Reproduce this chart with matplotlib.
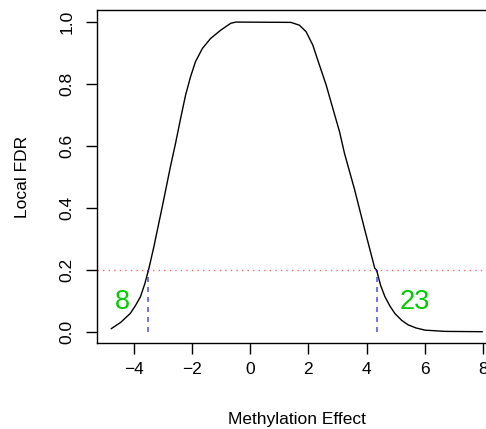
import matplotlib
matplotlib.use("Agg")
import matplotlib.pyplot as plt

plt.rcParams["font.family"] = ["Liberation Sans", "DejaVu Sans"]

# local FDR curve
effect = [-4.77, -4.45, -4.12, -3.95, -3.77, -3.62, -3.49, -3.31, -3.02, -2.74,
          -2.565, -2.39, -2.22, -2.05, -1.88, -1.64, -1.36, -1.01, -0.67, -0.49,
          1.40, 1.69, 1.92, 2.15, 2.38, 2.61, 2.84, 3.07, 3.24, 3.59,
          3.94, 4.28, 4.34, 4.48, 4.63, 4.80, 4.97, 5.20, 5.43, 5.70,
          6.01, 6.70, 7.97]
local_fdr = [0.010, 0.030, 0.059, 0.083, 0.113, 0.155, 0.200, 0.274, 0.404, 0.533,
             0.608, 0.689, 0.764, 0.823, 0.872, 0.915, 0.947, 0.974, 0.996, 1.000,
             0.999, 0.990, 0.969, 0.926, 0.861, 0.797, 0.721, 0.646, 0.576, 0.458,
             0.328, 0.205, 0.200, 0.150, 0.113, 0.083, 0.059, 0.037, 0.022, 0.012,
             0.005, 0.001, 0.000]

fdr_cut = 0.2
cut_left, cut_right = -3.50, 4.34
n_left, n_right = "8", "23"
label_pos_left, label_pos_right = -4.40, 5.64
label_y = 0.097

x_ticks = [-4, -2, 0, 2, 4, 6, 8]
y_ticks = [0.0, 0.2, 0.4, 0.6, 0.8, 1.0]

fig = plt.figure(figsize=(4.86, 4.29), dpi=100)
# plot region runs past the right edge, as in the reference
ax = fig.add_axes([96.5 / 486, 86 / 429, 400.5 / 486, 333 / 429])

ax.plot(effect, local_fdr, color="black", lw=1.0)
ax.axhline(fdr_cut, color="red", lw=1.0, alpha=0.6, ls=(0, (1, 3)))
ax.plot([cut_left, cut_left], [0, fdr_cut], color="blue", lw=1.2, alpha=0.65,
        ls=(0, (3, 3)))
ax.plot([cut_right, cut_right], [0, fdr_cut], color="blue", lw=1.2, alpha=0.65,
        ls=(0, (3, 3)))
ax.text(label_pos_left, label_y, n_left, color="#00CD00", fontsize=19.5,
        ha="center", va="center")
ax.text(label_pos_right, label_y, n_right, color="#00CD00", fontsize=19.5,
        ha="center", va="center")

ax.set_xlim(-5.28, 8.48)
ax.set_ylim(-0.0365, 1.039)
ax.set_xticks(x_ticks)
ax.set_xticklabels(["\u2212" + str(-t) if t < 0 else str(t) for t in x_ticks])
ax.set_yticks(y_ticks)
ax.set_yticklabels([f"{t:.1f}" for t in y_ticks], rotation=90, va="center")
ax.tick_params(length=8, width=1, labelsize=12.5, pad=6)
ax.tick_params(axis="y", pad=8)
for s in ax.spines.values():
    s.set_linewidth(1.0)

ax.set_xlabel("Methylation Effect", fontsize=12.5, labelpad=25)
ax.set_ylabel("Local FDR", fontsize=12.5, labelpad=21)

fig.savefig("out.png", dpi=100)
